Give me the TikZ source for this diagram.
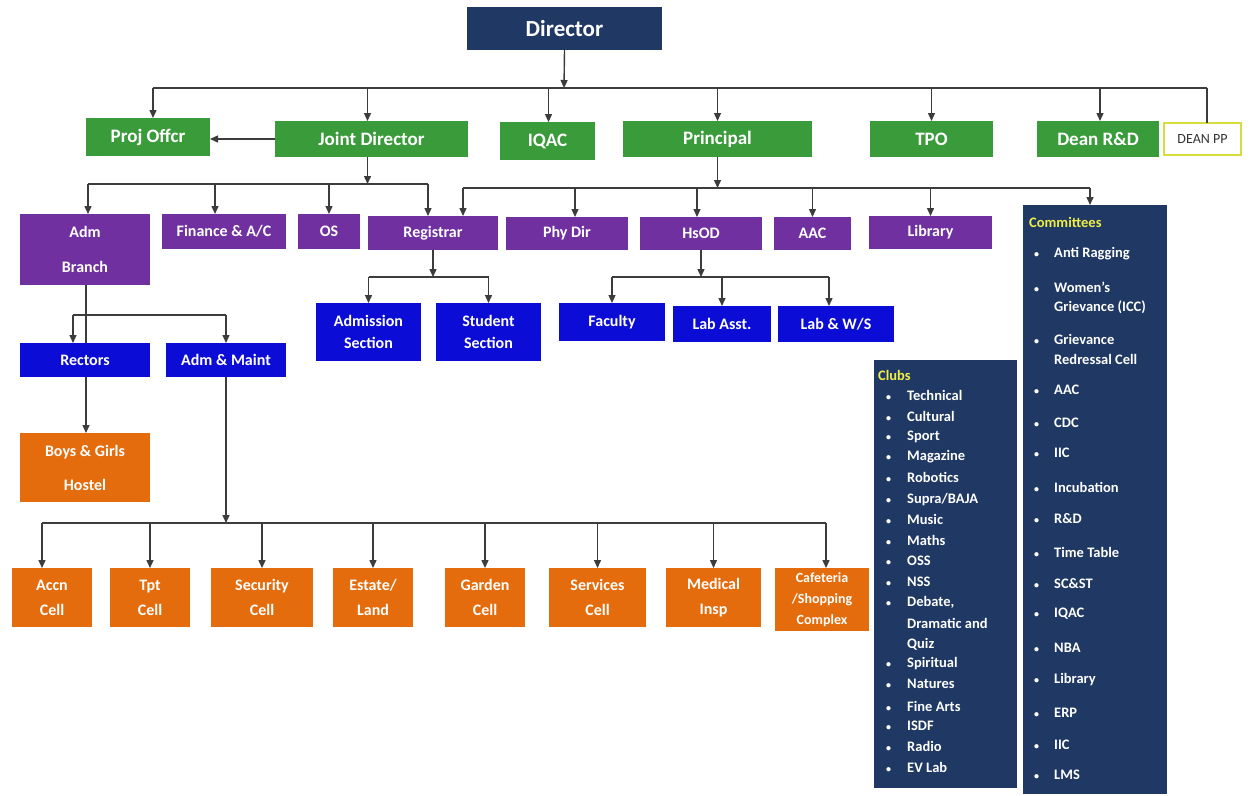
\documentclass[tikz,border=0pt]{standalone}
\usepackage{fontspec}
\setmainfont{Carlito}
\usetikzlibrary{arrows.meta}
\definecolor{navy}{RGB}{31,56,100}
\definecolor{grn}{RGB}{58,155,58}
\definecolor{purp}{RGB}{112,48,160}
\definecolor{blu}{RGB}{12,12,215}
\definecolor{orng}{RGB}{228,108,12}
\definecolor{ylw}{RGB}{240,240,70}
\definecolor{ppborder}{RGB}{215,222,60}
\definecolor{lin}{RGB}{60,60,60}
\newcommand\bx[7]{\node[#2, minimum width={#5pt-#3pt}, minimum height={#6pt-#4pt}] (#1) at ({(#3+#5)/2},{(#4+#6)/2}) {#7};}
\newcommand\smbul{{\fontsize{10}{10}\selectfont\textbullet}}
\begin{document}
\begin{tikzpicture}[x=1pt,y=-1pt,
  base/.style={inner sep=0pt, outer sep=0pt, align=center, text=white, font=\bfseries},
  navybox/.style={base, fill=navy, font=\bfseries\fontsize{23}{26}\selectfont},
  greenbox/.style={base, fill=grn, font=\bfseries\fontsize{19}{22}\selectfont},
  purplebox/.style={base, fill=purp, font=\bfseries\fontsize{16}{19}\selectfont},
  bluebox/.style={base, fill=blu, font=\bfseries\fontsize{16}{22}\selectfont},
  orangebox/.style={base, fill=orng, font=\bfseries\fontsize{16}{25}\selectfont},
  listbox/.style={base, fill=navy},
  conn/.style={draw=lin, line width=1.4pt},
  arr/.style={conn, -{Triangle[length=8pt,width=7pt]}},
  item/.style={anchor=west, inner sep=0pt, text=white, font=\bfseries\fontsize{14.5}{16}\selectfont},
  ttl/.style={item, text=ylw},
]
\useasboundingbox (0,0) rectangle (1250,795);
\fill[white] (0,0) rectangle (1250,795);

% top
\bx{dir}{navybox}{467}{7}{662}{50}{Director}
\bx{pjo}{greenbox}{86}{118}{210}{156}{Proj Offcr}
\bx{jd}{greenbox}{275}{121}{468}{157}{Joint Director}
\bx{iqac}{greenbox}{500}{122}{595}{160}{IQAC}
\bx{prin}{greenbox}{623}{121}{812}{157}{Principal}
\bx{tpo}{greenbox}{870}{121}{993}{157}{TPO}
\bx{dean}{greenbox}{1037}{121}{1159}{157}{Dean R\&D}
\bx{deanpp}{base, draw=ppborder, line width=2pt, fill=white, text=black!80, font=\fontsize{14}{16}\selectfont}{1164}{123}{1241}{155}{DEAN PP}

% purple row
\bx{adm}{purplebox, font=\bfseries\fontsize{16}{35}\selectfont}{20}{214}{150}{285}{Adm\\Branch}
\bx{fin}{purplebox}{162}{214}{286}{249}{Finance \& A/C}
\bx{os}{purplebox}{298}{214}{360}{249}{OS}
\bx{reg}{purplebox}{368}{216}{498}{250}{Registrar}
\bx{phy}{purplebox}{506}{217}{628}{250}{Phy Dir}
\bx{hsod}{purplebox}{640}{217}{762}{250}{HsOD}
\bx{aac}{purplebox}{774}{217}{851}{250}{AAC}
\bx{lib}{purplebox}{869}{216}{992}{249}{Library}

% blue row
\bx{rect}{bluebox}{20}{343}{150}{377}{Rectors}
\bx{amaint}{bluebox}{166}{343}{286}{377}{Adm \& Maint}
\bx{admsec}{bluebox}{316}{303}{421}{361}{Admission\\Section}
\bx{stusec}{bluebox}{436}{303}{541}{361}{Student\\Section}
\bx{fac}{bluebox}{559}{303}{665}{341}{Faculty}
\bx{labasst}{bluebox}{673}{306}{771}{342}{Lab Asst.}
\bx{labws}{bluebox}{778}{306}{894}{342}{Lab \& W/S}

% orange
\bx{hostel}{orangebox, font=\bfseries\fontsize{16}{34}\selectfont}{20}{433}{150}{502}{Boys \& Girls\\Hostel}
\bx{accn}{orangebox}{12}{568}{92}{627}{Accn\\Cell}
\bx{tpt}{orangebox}{110}{568}{190}{627}{Tpt\\Cell}
\bx{sec}{orangebox}{211}{568}{313}{627}{Security\\Cell}
\bx{est}{orangebox}{333}{568}{413}{627}{Estate/\\Land}
\bx{gard}{orangebox}{445}{568}{525}{627}{Garden\\Cell}
\bx{serv}{orangebox}{549}{568}{646}{627}{Services\\Cell}
\bx{med}{orangebox}{666}{568}{761}{627}{Medical\\Insp}
\bx{caf}{orangebox, font=\bfseries\fontsize{14}{21}\selectfont}{775}{568}{869}{631}{Cafeteria\\/Shopping\\Complex}

% list boxes
\bx{clubs}{listbox}{874}{360}{1017}{788}{}
\bx{comm}{listbox}{1023}{205}{1167}{794}{}

\node[ttl] (clubsttl) at (878,375) {Clubs};
\foreach \yy/\t in {395/Technical, 416/Cultural, 437/Sport, 457/Magazine, 477/Robotics, 500/{Supra/BAJA}, 519/Music, 540/Maths, 561/OSS, 582/NSS, 602/{Debate,}, 664/Spiritual, 684/Natures, 706/{Fine Arts}, 726/ISDF, 746/Radio, 767/{EV Lab}}
  \node[item] (cl\yy) at (886,\yy) {\makebox[21pt][l]{\smbul}\t};
\node[item] (cl623) at (907,623) {Dramatic and};
\node[item] (cl644) at (907,644) {Quiz};

\node[ttl] (commttl) at (1029,222) {Committees};
\foreach \yy/\t in {254/{Anti Ragging}, 287/{Women's}, 339/Grievance, 390/AAC, 423/CDC, 453/IIC, 487/Incubation, 519/{R\&D}, 552/{Time Table}, 584/{SC\&ST}, 614/IQAC, 648/NBA, 680/Library, 713/ERP, 745/IIC, 775/LMS}
  \node[item] (cm\yy) at (1034,\yy) {\makebox[20pt][l]{\smbul}\t};
\node[item] (cm307) at (1054,307) {Grievance (ICC)};
\node[item] (cm359) at (1054,359) {Redressal Cell};

% connectors: Director level
\coordinate (b1) at (564,88);
\coordinate (b1L) at (153,88);
\coordinate (b1R) at (1207,88);
\draw[arr] (dir.south) -- (b1);
\draw[conn] (b1L) -- (b1R);
\draw[arr] (b1L) -- (b1L |- pjo.north);
\draw[arr] ([xshift=-4pt]jd.north |- b1) -- ([xshift=-4pt]jd.north);
\draw[arr] ([xshift=1pt]iqac.north |- b1) -- ([xshift=1pt]iqac.north);
\draw[arr] (prin.north |- b1) -- (prin.north);
\draw[arr] (tpo.north |- b1) -- (tpo.north);
\draw[arr] ([xshift=2pt]dean.north |- b1) -- ([xshift=2pt]dean.north);
\draw[conn] (b1R) -- (b1R |- deanpp.north);
\draw[arr] (jd.west) -- (jd.west -| pjo.east);

% Joint Director bus
\coordinate (b2L) at (88,184);
\coordinate (b2R) at (428,184);
\draw[arr] ([xshift=-4pt]jd.south) -- ([xshift=-4pt]jd.south |- b2L);
\draw[conn] (b2L) -- (b2R);
\draw[arr] (b2L) -- (b2L |- adm.north);
\draw[arr] ([xshift=-9pt]fin.north |- b2L) -- ([xshift=-9pt]fin.north);
\draw[arr] (os.north |- b2L) -- (os.north);
\draw[arr] (b2R) -- (b2R |- reg.north);

% Principal bus
\coordinate (b3L) at (463,188);
\coordinate (b3R) at (1090,188);
\draw[arr] (prin.south) -- (prin.south |- b3L);
\draw[conn] (b3L) -- (b3R);
\draw[arr] (b3L) -- (b3L |- reg.north);
\draw[arr] ([xshift=8pt]phy.north |- b3L) -- ([xshift=8pt]phy.north);
\draw[arr] ([xshift=-4pt]hsod.north |- b3L) -- ([xshift=-4pt]hsod.north);
\draw[arr] (aac.north |- b3L) -- (aac.north);
\draw[arr] (lib.north |- b3L) -- (lib.north);
\draw[arr] (b3R) -- (b3R |- comm.north);

% Registrar bus
\coordinate (b4) at (433,277);
\draw[arr] (reg.south) -- (reg.south |- b4);
\draw[conn] (admsec.north |- b4) -- (stusec.north |- b4);
\draw[arr] (admsec.north |- b4) -- (admsec.north);
\draw[arr] (stusec.north |- b4) -- (stusec.north);

% HsOD bus
\coordinate (b5) at (700,277);
\draw[arr] (hsod.south) -- (hsod.south |- b5);
\draw[conn] (fac.north |- b5) -- ([xshift=-7pt]labws.north |- b5);
\draw[arr] (fac.north |- b5) -- (fac.north);
\draw[arr] (labasst.north |- b5) -- (labasst.north);
\draw[arr] ([xshift=-7pt]labws.north |- b5) -- ([xshift=-7pt]labws.north);

% Adm Branch
\coordinate (b6) at (86,315);
\draw[conn] ([xshift=1pt]adm.south) -- ([xshift=1pt]adm.south |- rect.north);
\draw[conn] ([xshift=-12pt]rect.north |- b6) -- (amaint.north |- b6);
\draw[arr] ([xshift=-12pt]rect.north |- b6) -- ([xshift=-12pt]rect.north);
\draw[arr] (amaint.north |- b6) -- (amaint.north);
\draw[arr] ([xshift=1pt]rect.south) -- ([xshift=1pt]rect.south |- hostel.north);

% Adm & Maint bus
\coordinate (b7) at (226,523);
\draw[arr] (amaint.south) -- (b7);
\draw[conn] ([xshift=-10pt]accn.north |- b7) -- ([xshift=4pt]caf.north |- b7);
\draw[arr] ([xshift=-10pt]accn.north |- b7) -- ([xshift=-10pt]accn.north);
\draw[arr] (tpt.north |- b7) -- (tpt.north);
\draw[arr] (sec.north |- b7) -- (sec.north);
\draw[arr] (est.north |- b7) -- (est.north);
\draw[arr] (gard.north |- b7) -- (gard.north);
\draw[arr] (serv.north |- b7) -- (serv.north);
\draw[arr] (med.north |- b7) -- (med.north);
\draw[arr] ([xshift=4pt]caf.north |- b7) -- ([xshift=4pt]caf.north);
\end{tikzpicture}
\end{document}
